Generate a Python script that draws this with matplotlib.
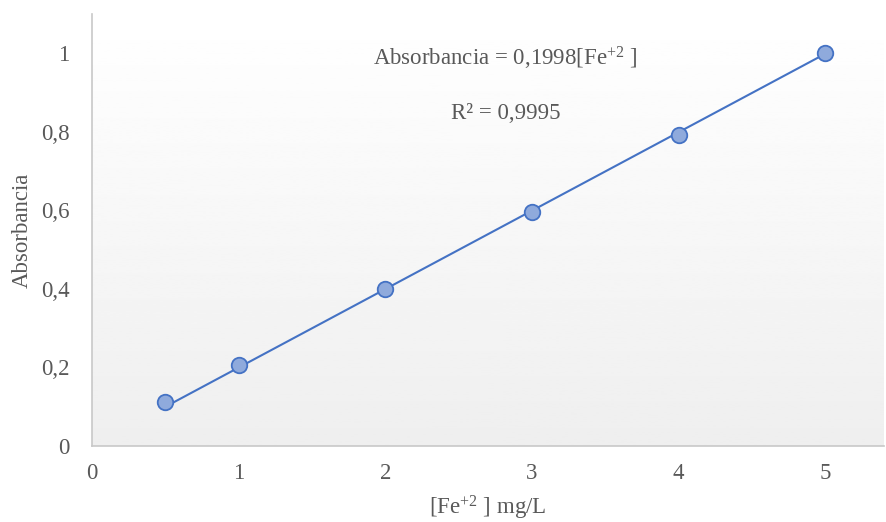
import numpy as np
import matplotlib
matplotlib.use("Agg")
import matplotlib.pyplot as plt

# Calibration curve for Fe(+2)
conc = [0.5, 1, 2, 3, 4, 5]
absorb = [0.112, 0.206, 0.401, 0.597, 0.791, 1.0]
slope = 0.1998
r2 = 0.9995

xticks = [0, 1, 2, 3, 4, 5]
yticks = [0, 0.2, 0.4, 0.6, 0.8, 1.0]
ylabels = ["0", "0,2", "0,4", "0,6", "0,8", "1"]

plt.rcParams["font.family"] = ["Liberation Serif", "DejaVu Serif"]
plt.rcParams["mathtext.fontset"] = "custom"
plt.rcParams["mathtext.rm"] = "Liberation Serif"
plt.rcParams["mathtext.it"] = "Liberation Serif:italic"

txt = "#595959"
fs = 16.5
fig = plt.figure(figsize=(8.86, 5.22), dpi=100)
ax = fig.add_axes([0.1038, 0.1456, 0.8939, 0.8274])

# light vertical gradient behind the data, grey at the bottom
grad = np.linspace(0.935, 1.0, 256).reshape(-1, 1)
ax.imshow(grad, cmap="gray", vmin=0, vmax=1, aspect="auto", origin="lower",
          extent=[0, 5.4, 0, 1.1], zorder=0)

xx = np.array([conc[0], conc[-1]])
ax.plot(xx, slope * xx, color="#4472c4", lw=1.5, zorder=2)
ax.scatter(conc, absorb, s=125, facecolor="#8faadc", edgecolor="#4472c4",
           linewidth=1.3, zorder=3)

ax.set_xlim(0, 5.4)
ax.set_ylim(0, 1.1)
ax.set_xticks(xticks)
ax.set_xticklabels([str(t) for t in xticks])
ax.set_yticks(yticks)
ax.set_yticklabels(ylabels)
ax.tick_params(length=0, labelsize=fs, labelcolor=txt)
ax.tick_params(axis="y", pad=16)
ax.tick_params(axis="x", pad=12)
for s in ["top", "right"]:
    ax.spines[s].set_visible(False)
for s in ["left", "bottom"]:
    ax.spines[s].set_color("#c8c8c8")
    ax.spines[s].set_linewidth(1.2)

ax.set_xlabel(r"[Fe$^{+2}$ ] mg/L", fontsize=fs, color=txt, labelpad=7)
ax.set_ylabel("Absorbancia", fontsize=fs, color=txt, labelpad=6)

ax.text(2.82, 0.987, r"Absorbancia = 0,1998[Fe$^{+2}$ ]", fontsize=fs,
        color=txt, ha="center", va="center")
ax.text(2.82, 0.847, "R² = %s" % ("%.4f" % r2).replace(".", ","), fontsize=fs,
        color=txt, ha="center", va="center")

fig.savefig("out.png", dpi=100)
